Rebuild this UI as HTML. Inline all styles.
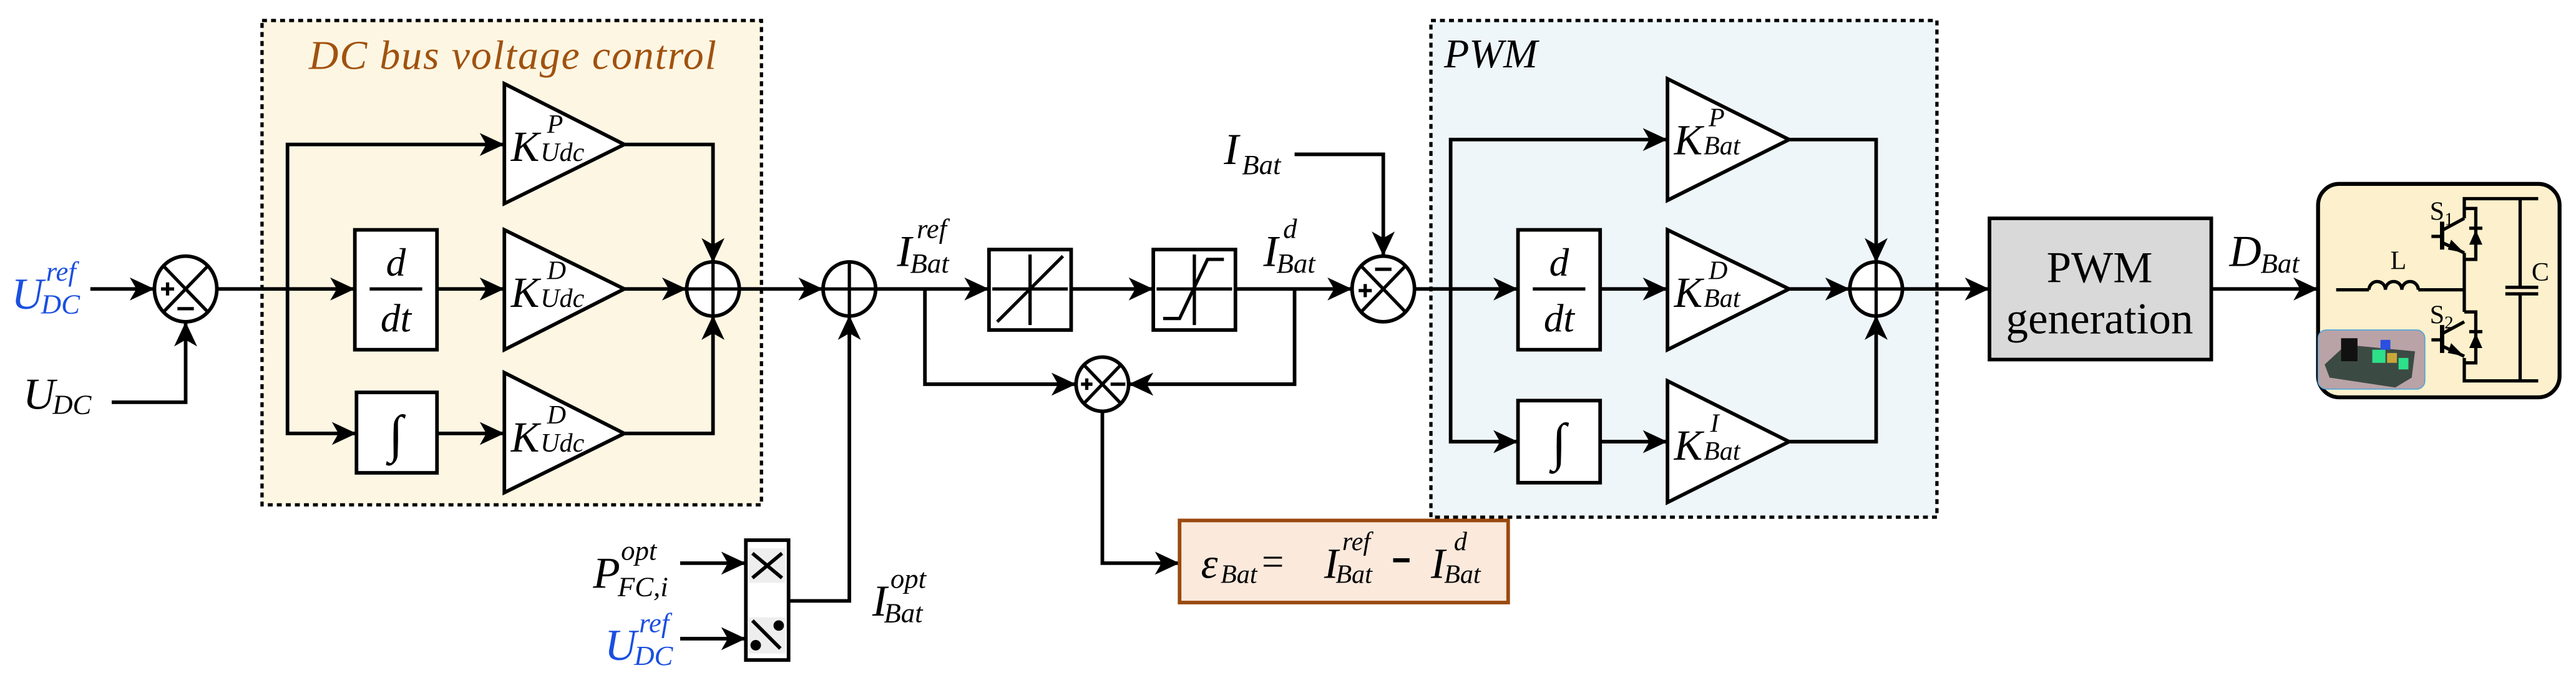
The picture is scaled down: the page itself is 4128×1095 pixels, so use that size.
<!DOCTYPE html>
<html><head><meta charset="utf-8"><style>
html,body{margin:0;padding:0;background:#fff;font-family:"Liberation Serif","DejaVu Serif","Noto Serif CJK SC",serif;}
svg{display:block;font-family:"Liberation Serif","DejaVu Serif","Noto Serif CJK SC",serif;}
svg text{font-family:"Liberation Serif","DejaVu Serif","Noto Serif CJK SC",serif;font-style:italic;}
svg text.n{font-style:normal;}
</style></head><body>
<svg width="4128" height="1095" viewBox="0 0 1568 416" preserveAspectRatio="none" xmlns="http://www.w3.org/2000/svg" font-family="'Liberation Serif','DejaVu Serif',serif" font-style="italic">
<defs>
<marker id="a" viewBox="-16 -8 16 16" refX="0" refY="0" markerWidth="16" markerHeight="16" markerUnits="userSpaceOnUse" orient="auto">
<path d="M0,0 L-15,-7 L-11,0 L-15,7 Z" fill="#000"/>
</marker>
</defs>
<rect width="1568" height="416" fill="#fff"/>
<rect x="159.5" y="12.5" width="304" height="295" fill="#fdf6e3" stroke="#000" stroke-width="2" stroke-dasharray="3,2.5"/>
<text x="312" y="42" font-size="25" fill="#a0520f" text-anchor="middle" textLength="248">DC bus voltage control</text>
<rect x="871" y="12.5" width="308" height="302.5" fill="#eef6fa" stroke="#000" stroke-width="2" stroke-dasharray="3,2.5"/>
<text x="879" y="41" font-size="25">PWM</text>

<g stroke="#000" stroke-width="2.2" fill="none">
<line x1="55" y1="176" x2="94" y2="176" marker-end="url(#a)"/>
<polyline points="68,245 113,245 113,196" marker-end="url(#a)"/>
<line x1="132" y1="176" x2="216" y2="176" marker-end="url(#a)"/>
<polyline points="175,176 175,88 307,88" marker-end="url(#a)"/>
<polyline points="175,176 175,264 217,264" marker-end="url(#a)"/>
<line x1="266" y1="176" x2="307" y2="176" marker-end="url(#a)"/>
<line x1="266" y1="264" x2="307" y2="264" marker-end="url(#a)"/>
<polyline points="380,88 434,88 434,160" marker-end="url(#a)"/>
<line x1="380" y1="176" x2="418" y2="176" marker-end="url(#a)"/>
<polyline points="380,264 434,264 434,192" marker-end="url(#a)"/>
<line x1="450" y1="176" x2="501" y2="176" marker-end="url(#a)"/>
<polyline points="480,366 517,366 517,192" marker-end="url(#a)"/>
<line x1="414" y1="343" x2="454" y2="343" marker-end="url(#a)"/>
<line x1="414" y1="389" x2="454" y2="389" marker-end="url(#a)"/>
<line x1="533" y1="176" x2="602" y2="176" marker-end="url(#a)"/>
<polyline points="563,176 563,234 655,234" marker-end="url(#a)"/>
<line x1="652" y1="176" x2="702" y2="176" marker-end="url(#a)"/>
<line x1="752" y1="176" x2="823" y2="176" marker-end="url(#a)"/>
<polyline points="788,176 788,234 687,234" marker-end="url(#a)"/>
<polyline points="788,94 842,94 842,156" marker-end="url(#a)"/>
<polyline points="671,250 671,343 718,343" marker-end="url(#a)"/>
<line x1="861" y1="176" x2="924" y2="176" marker-end="url(#a)"/>
<polyline points="883,176 883,85 1015,85" marker-end="url(#a)"/>
<polyline points="883,176 883,269 924,269" marker-end="url(#a)"/>
<line x1="974" y1="176" x2="1015" y2="176" marker-end="url(#a)"/>
<line x1="974" y1="269" x2="1015" y2="269" marker-end="url(#a)"/>
<polyline points="1089,85 1142,85 1142,160" marker-end="url(#a)"/>
<line x1="1089" y1="176" x2="1126" y2="176" marker-end="url(#a)"/>
<polyline points="1089,269 1142,269 1142,192" marker-end="url(#a)"/>
<line x1="1158" y1="176" x2="1211" y2="176" marker-end="url(#a)"/>
<line x1="1346" y1="176" x2="1411" y2="176" marker-end="url(#a)"/>
</g>

<g stroke="#000" stroke-width="2.2" fill="#fff">
<ellipse cx="113" cy="176" rx="19" ry="20"/>
<ellipse cx="434" cy="176" rx="16" ry="16.5"/>
<ellipse cx="517" cy="176" rx="16" ry="16.5"/>
<ellipse cx="842" cy="176" rx="19" ry="20"/>
<ellipse cx="671" cy="234" rx="16" ry="16.5"/>
<ellipse cx="1142" cy="176" rx="16" ry="16.5"/>
<rect x="216" y="140" width="50" height="73"/>
<rect x="217" y="239" width="49" height="49"/>
<rect x="924" y="140" width="50" height="73"/>
<rect x="924" y="244" width="50" height="50"/>
<rect x="602" y="152" width="50" height="49"/>
<rect x="702" y="152" width="50" height="49"/>
<polygon points="307,51 380,88 307,124"/>
<polygon points="307,140 380,176 307,213"/>
<polygon points="307,227 380,264 307,300"/>
<polygon points="1015,48 1089,85 1015,122"/>
<polygon points="1015,140 1089,176 1015,213"/>
<polygon points="1015,232 1089,269 1015,306"/>
</g>
<g stroke="#000" stroke-width="2" fill="none">
<line x1="99.5" y1="162" x2="126.5" y2="190"/><line x1="126.5" y1="162" x2="99.5" y2="190"/>
<line x1="98" y1="176" x2="106" y2="176"/><line x1="102" y1="172" x2="102" y2="180"/>
<line x1="108" y1="188" x2="118" y2="188"/>
<line x1="418" y1="176" x2="450" y2="176"/><line x1="434" y1="159.5" x2="434" y2="192.5"/>
<line x1="501" y1="176" x2="533" y2="176"/><line x1="517" y1="159.5" x2="517" y2="192.5"/>
<line x1="1126" y1="176" x2="1158" y2="176"/><line x1="1142" y1="159.5" x2="1142" y2="192.5"/>
<line x1="828.5" y1="162" x2="855.5" y2="190"/><line x1="855.5" y1="162" x2="828.5" y2="190"/>
<line x1="827" y1="177" x2="835" y2="177"/><line x1="831" y1="173" x2="831" y2="181"/>
<line x1="837" y1="164" x2="847" y2="164"/>
<line x1="660" y1="222.5" x2="682" y2="245.5"/><line x1="682" y1="222.5" x2="660" y2="245.5"/>
<line x1="658" y1="234" x2="665" y2="234"/><line x1="661.5" y1="230.5" x2="661.5" y2="237.5"/>
<line x1="676" y1="234" x2="685" y2="234"/>
<line x1="225" y1="176" x2="257" y2="176"/>
<line x1="933" y1="176" x2="965" y2="176"/>
<line x1="604" y1="176" x2="650" y2="176"/><line x1="627" y1="155" x2="627" y2="198"/>
<line x1="607" y1="196" x2="647" y2="156"/>
<line x1="704" y1="176" x2="750" y2="176"/><line x1="727" y1="155" x2="727" y2="198"/>
<polyline points="708,194 718,194 735,158 745,158"/>
</g>
<rect x="454" y="329" width="26" height="73" fill="#fff" stroke="#000" stroke-width="2.2"/>
<rect x="456" y="334" width="22" height="21" fill="#eee"/>
<rect x="456" y="376" width="22" height="22" fill="#eee"/>
<g stroke="#000" stroke-width="2.2"><line x1="458" y1="337" x2="476" y2="352"/><line x1="476" y1="337" x2="458" y2="352"/><line x1="458" y1="378" x2="475" y2="395"/></g>
<circle cx="474" cy="381" r="3.2"/><circle cx="460" cy="393" r="3.2"/>

<rect x="718" y="317" width="200" height="50" fill="#fbe9dc" stroke="#9a4a10" stroke-width="2.2"/>
<rect x="1211" y="133" width="135" height="86" fill="#d9d9d9" stroke="#000" stroke-width="2.2"/>
<text class="n" x="1278" y="172" font-size="27" font-style="normal" text-anchor="middle">PWM</text>
<text class="n" x="1278" y="203" font-size="27" font-style="normal" text-anchor="middle">generation</text>

<rect x="1411" y="112" width="147" height="130" rx="13" fill="#fdf0cc" stroke="#000" stroke-width="2.4"/>
<g stroke="#000" stroke-width="2" fill="none">
<polyline points="1545,121 1500,121 1500,133"/>
<polyline points="1500,154 1500,190"/>
<polyline points="1500,218 1500,232 1545,232"/>
<polyline points="1500,127 1507,127 1507,158 1500,158"/>
<polyline points="1500,190 1507,190 1507,221 1500,221"/>
<line x1="1487" y1="140" x2="1500" y2="133"/><line x1="1487" y1="148" x2="1500" y2="154"/>
<line x1="1487" y1="203" x2="1500" y2="196"/><line x1="1487" y1="211" x2="1500" y2="217"/>
<line x1="1486.5" y1="135" x2="1486.5" y2="152" stroke-width="2.6"/>
<line x1="1486.5" y1="198" x2="1486.5" y2="215" stroke-width="2.6"/>
<line x1="1480" y1="144" x2="1486" y2="144"/><line x1="1480" y1="207" x2="1486" y2="207"/>
<line x1="1503" y1="139" x2="1511" y2="139"/><line x1="1503" y1="202" x2="1511" y2="202"/>
<line x1="1534" y1="121" x2="1534" y2="175"/><line x1="1534" y1="179" x2="1534" y2="232"/>
<line x1="1525" y1="175" x2="1545" y2="175"/><line x1="1525" y1="179" x2="1545" y2="179"/>
<polyline points="1422,176.5 1442,176.5"/>
<path d="M1442,176.5 a5,5 0 0 1 10,0 a5,5 0 0 1 10,0 a5,5 0 0 1 10,0"/>
<polyline points="1472,176.5 1500,176.5"/>
</g>
<g fill="#000">
<polygon points="1503,149 1511,149 1507,140"/><polygon points="1503,212 1511,212 1507,203"/>
<polygon points="1500,154 1492,146 1490,152"/><polygon points="1500,217 1492,209 1490,215"/>
</g>
<rect x="1411" y="201" width="65" height="36" rx="5" fill="#b9a3a6" stroke="#4aa3d8" stroke-width="0.6"/>
<polygon points="1415,222 1428,210 1470,214 1468,230 1458,236 1418,230" fill="#3c4a44"/>
<rect x="1425" y="206" width="10" height="14" fill="#111"/>
<rect x="1444" y="213" width="8" height="8" fill="#2de08a"/>
<rect x="1453" y="215" width="6" height="6" fill="#c9a63a"/>
<rect x="1460" y="218" width="6" height="7" fill="#2de08a"/>
<rect x="1449" y="207" width="6" height="6" fill="#2b4fe0"/>
<text class="n" x="1455" y="164" font-size="16" font-style="normal">L</text>
<text class="n" x="1541" y="171" font-size="16" font-style="normal">C</text>
<text class="n" x="1479" y="134" font-size="16" font-style="normal">S<tspan font-size="11" dy="3">1</tspan></text>
<text class="n" x="1479" y="197" font-size="16" font-style="normal">S<tspan font-size="11" dy="3">2</tspan></text>

<g fill="#1a4fe0">
<text x="7" y="188" font-size="27">U</text><text x="28" y="171" font-size="17">ref</text><text x="25" y="191" font-size="17">DC</text>
<text x="368" y="402" font-size="27">U</text><text x="389" y="385" font-size="17">ref</text><text x="386" y="405" font-size="17">DC</text>
</g>
<text x="14" y="249" font-size="27">U</text><text x="32" y="252" font-size="17">DC</text>
<text x="361" y="358" font-size="27">P</text><text x="378" y="341" font-size="17">opt</text><text x="376" y="363" font-size="17">FC,i</text>
<text x="546" y="162" font-size="27">I</text><text x="558" y="145" font-size="17">ref</text><text x="554" y="166" font-size="17">Bat</text>
<text x="769" y="162" font-size="27">I</text><text x="781" y="145" font-size="17">d</text><text x="777" y="166" font-size="17">Bat</text>
<text x="745" y="100" font-size="27">I</text><text x="756" y="106" font-size="17">Bat</text>
<text x="531" y="375" font-size="27">I</text><text x="542" y="358" font-size="17">opt</text><text x="538" y="379" font-size="17">Bat</text>
<text x="1357" y="162" font-size="27">D</text><text x="1376" y="166" font-size="17">Bat</text>
<text x="311" y="98" font-size="26">K</text><text x="333" y="81" font-size="16">P</text><text x="329" y="98" font-size="16">Udc</text>
<text x="311" y="187" font-size="26">K</text><text x="333" y="170" font-size="16">D</text><text x="329" y="187" font-size="16">Udc</text>
<text x="311" y="275" font-size="26">K</text><text x="333" y="258" font-size="16">D</text><text x="329" y="275" font-size="16">Udc</text>
<text x="1019" y="94" font-size="26">K</text><text x="1040" y="77" font-size="16">P</text><text x="1037" y="94" font-size="16">Bat</text>
<text x="1019" y="187" font-size="26">K</text><text x="1040" y="170" font-size="16">D</text><text x="1037" y="187" font-size="16">Bat</text>
<text x="1019" y="280" font-size="26">K</text><text x="1041" y="263" font-size="16">I</text><text x="1037" y="280" font-size="16">Bat</text>
<text x="241" y="168" font-size="24" text-anchor="middle">d</text><text x="241" y="202" font-size="24" text-anchor="middle">dt</text>
<text x="949" y="168" font-size="24" text-anchor="middle">d</text><text x="949" y="202" font-size="24" text-anchor="middle">dt</text>
<text x="241" y="275" font-size="32" text-anchor="middle">∫</text>
<text x="949" y="280" font-size="32" text-anchor="middle">∫</text>
<text x="731" y="352" font-size="26">ε</text><text x="743" y="355" font-size="16">Bat</text>
<text class="n" x="768" y="350" font-size="24" font-style="normal">=</text>
<text x="806" y="352" font-size="26">I</text><text x="817" y="335" font-size="16">ref</text><text x="813" y="355" font-size="16">Bat</text>
<rect x="848" y="340" width="10" height="2.5" fill="#000"/>
<text x="871" y="352" font-size="26">I</text><text x="885" y="335" font-size="16">d</text><text x="879" y="355" font-size="16">Bat</text>
</svg>
</body></html>
